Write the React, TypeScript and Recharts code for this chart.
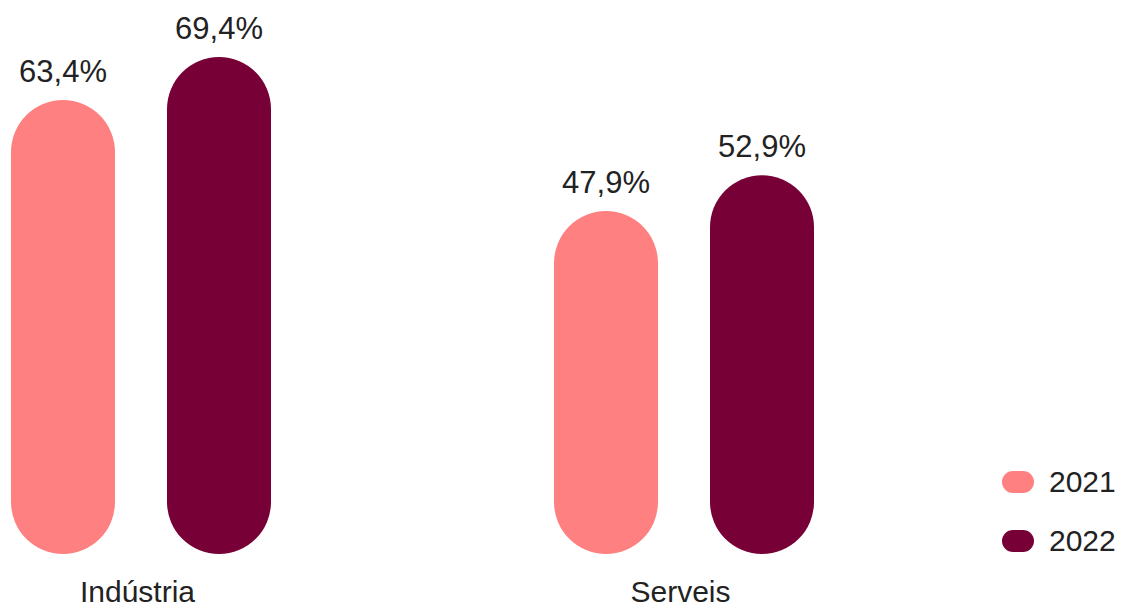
import React from 'react';
import { BarChart, Bar, XAxis, YAxis, Legend, LabelList } from 'recharts';

const categories = ['Indústria', 'Serveis'];
const seriesNames = ['2021', '2022'];
const values2021 = [63.4, 47.9];
const values2022 = [69.4, 52.9];
const colors = ['#FF8080', '#770036'];

const data = categories.map((c, i) => ({
  category: c,
  v2021: values2021[i],
  v2022: values2022[i],
}));

const FONT = '"Liberation Sans", Arial, Helvetica, sans-serif';
const fmt = (v: any) => Number(v).toFixed(1).replace('.', ',') + '%';

const renderLegend = (props: any) => {
  const { payload } = props;
  return (
    <div style={{ fontFamily: FONT }}>
      {(payload || []).map((e: any, i: number) => (
        <div key={i} style={{ display: 'flex', alignItems: 'center', height: 59 }}>
          <span
            style={{
              display: 'inline-block',
              width: 32,
              height: 22,
              borderRadius: 11,
              background: e.color,
            }}
          />
          <span style={{ marginLeft: 15, fontSize: 30, color: '#222', lineHeight: '30px' }}>{e.value}</span>
        </div>
      ))}
    </div>
  );
};

export default function App() {
  return (
    <div style={{ position: 'absolute', left: 0, top: 0, width: 1124, height: 607, overflow: 'hidden', background: '#fff' }}>
      <div style={{ position: 'absolute', left: -131, top: 0 }}>
        <BarChart
          width={1255}
          height={607}
          data={data}
          margin={{ top: 17, right: 169, bottom: 0, left: 0 }}
          barSize={104}
          barGap={52}
        >
          <XAxis
            dataKey="category"
            axisLine={false}
            tickLine={false}
            tickSize={0}
            tickMargin={27}
            height={53}
            interval={0}
            tick={{ fontSize: 30, fill: '#222', fontFamily: FONT, dx: -3 }}
          />
          <YAxis hide domain={[0, 75]} />
          <Legend
            layout="horizontal"
            verticalAlign="middle"
            align="center"
            content={renderLegend}
            wrapperStyle={{ left: 1133, top: 452, right: 'auto', bottom: 'auto', width: 130 }}
          />
          <Bar dataKey="v2021" name={seriesNames[0]} fill={colors[0]} radius={52} isAnimationActive={false}>
            <LabelList dataKey="v2021" position="top" offset={18} formatter={fmt} style={{ fontSize: 31, fill: '#222', fontFamily: FONT }} />
          </Bar>
          <Bar dataKey="v2022" name={seriesNames[1]} fill={colors[1]} radius={52} isAnimationActive={false}>
            <LabelList dataKey="v2022" position="top" offset={18} formatter={fmt} style={{ fontSize: 31, fill: '#222', fontFamily: FONT }} />
          </Bar>
        </BarChart>
      </div>
    </div>
  );
}
